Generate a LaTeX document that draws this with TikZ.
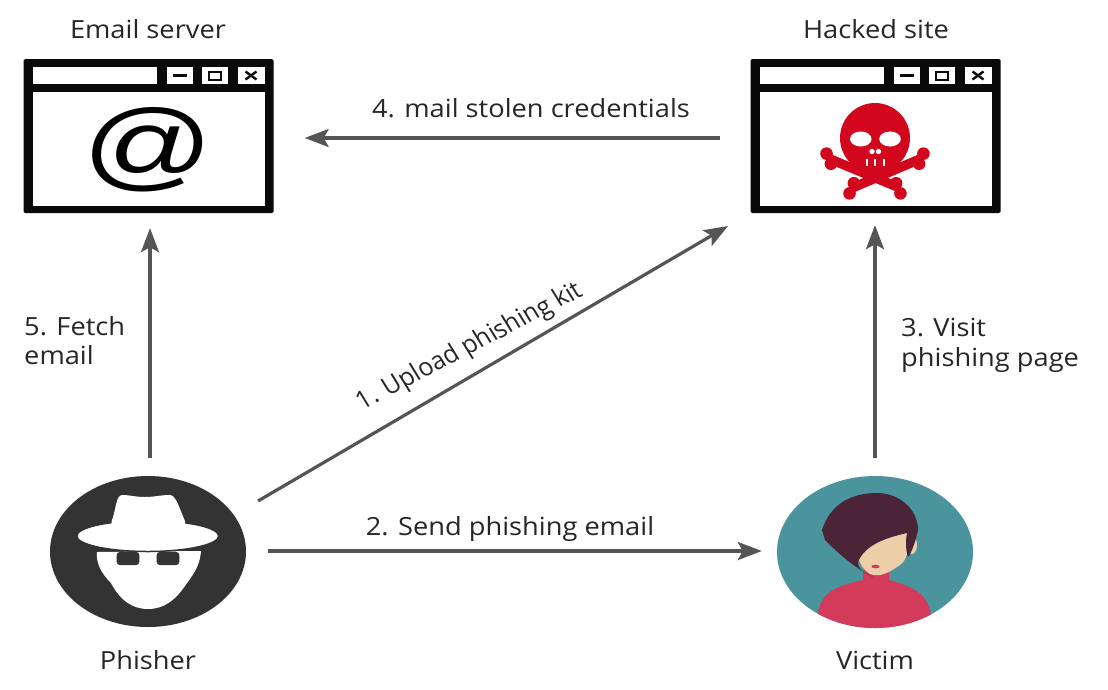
\documentclass[tikz,border=0pt]{standalone}
\usepackage{fontspec}
\setmainfont{Open Sans}
\newfontfamily\atfont{Liberation Sans}
\usetikzlibrary{arrows.meta,shapes.geometric}
\definecolor{frameblack}{HTML}{0A0A0A}
\definecolor{flowgrey}{HTML}{555555}
\definecolor{skullred}{HTML}{D2071E}
\definecolor{darkgrey}{HTML}{333333}
\definecolor{tealbg}{HTML}{4A949E}
\definecolor{sweater}{HTML}{D43A5A}
\definecolor{hair}{HTML}{4B2438}
\definecolor{skin}{HTML}{ECCFA8}
\tikzset{
  flow/.style={draw=flowgrey,line width=3.2pt,-{Stealth[length=24pt,width=18pt,inset=5pt]}},
  label/.style={font=\fontsize{25}{29.5}\selectfont,text=black!85,inner sep=0pt,align=left,xscale=1.09},
  windowbox/.style={rectangle,minimum width=250pt,minimum height=154pt,inner sep=0pt,fill=frameblack,rounded corners=1.5pt},
  bone/.style={draw=skullred,line width=9.5pt},
  knob/.style={fill=skullred}
}
\newcommand{\windowparts}[1]{
  \begin{scope}[shift={(#1)}]
    \fill[white] (9,8) rectangle (133,25);
    \fill[white] (9,33) rectangle (241,147);
    \fill[white] (143,8) rectangle (169,25);
    \fill[white] (178,8) rectangle (204,25);
    \fill[white] (214,8) rectangle (241,25);
    \draw[frameblack,line width=2.2pt] (149,16.5) -- (163,16.5);
    \draw[frameblack,line width=2pt] (185,12.5) rectangle (197,20.5);
    \draw[frameblack,line width=2.4pt] (222,12.5) -- (233,20.5);
    \draw[frameblack,line width=2.4pt] (222,20.5) -- (233,12.5);
  \end{scope}
}
\newcommand{\boneend}[3]{
  \fill[knob] (#1,#2) ++(#3:5.5) circle (6.3);
  \fill[knob] (#1,#2) ++(#3+180:5.5) circle (6.3);
}
\begin{document}
\begin{tikzpicture}[x=1pt,y=-1pt]
  \useasboundingbox (0,0) rectangle (1108,689);
  \fill[white] (0,0) rectangle (1108,689);

  \node[windowbox] (server) at (148.5,136) {};
  \node[windowbox] (site) at (875.5,136) {};
  \windowparts{23.5,59}
  \windowparts{750.5,59}
  \node[font=\atfont\fontsize{98}{98}\selectfont,inner sep=0pt,xscale=1.32] (at) at (148.5,150) {@};

  \draw[bone] (830,159) -- (900,188);
  \draw[bone] (920,159) -- (852,188);
  \boneend{828.7}{158.7}{67}
  \boneend{921.3}{158.7}{113}
  \boneend{851.7}{188.3}{113}
  \boneend{898.3}{188.3}{67}
  \fill[skullred] (875,138) ellipse (35 and 35);
  \fill[skullred] (848,150) -- (902,150) -- (895,157) -- (895,166) -- (856.7,166) -- (856.7,157) -- cycle;
  \fill[white] (860.8,139) ellipse (10.8 and 7.5);
  \fill[white] (890,139) ellipse (10.8 and 7.5);
  \fill[white] (872,151.5) circle (2.7);
  \fill[white] (878.5,151.5) circle (2.7);
  \fill[white] (865.7,159) rectangle (867.7,166);
  \fill[white] (874.3,159) rectangle (876.3,166);
  \fill[white] (883,159) rectangle (885,166);

  \node[ellipse,minimum width=196pt,minimum height=151pt,inner sep=0pt,fill=darkgrey] (phisher) at (148,551.5) {};
  \fill[white] (97,552) .. controls (96,562) and (100,572) .. (111,583)
    .. controls (120,600) and (132,609) .. (148,609)
    .. controls (164,609) and (176,600) .. (187,583)
    .. controls (197,570) and (200,562) .. (201,551) -- cycle;
  \fill[white,draw=darkgrey,line width=1.5pt] (147.7,536) ellipse (71 and 15.5);
  \fill[white] (111.7,521) .. controls (116,510) and (116,495) .. (122,495)
    .. controls (130,495) and (135,497) .. (145,497)
    .. controls (155,497) and (160,495) .. (170,495)
    .. controls (176,495) and (180,510) .. (185,521) -- (185,530) -- (111.7,530) -- cycle;
  \fill[darkgrey,rounded corners=3pt] (116.7,552) rectangle (139.3,565);
  \fill[darkgrey,rounded corners=3pt] (156.7,552) rectangle (179.3,565);

  \node[ellipse,minimum width=196pt,minimum height=152pt,inner sep=0pt,fill=tealbg] (victim) at (875,552) {};
  \begin{scope}
    \clip (875,552) ellipse (98 and 76);
    \fill[sweater] (818,612) .. controls (822,595) and (830,587) .. (863,580) -- (863,570) -- (889,570) -- (889,580)
      .. controls (915,587) and (928,595) .. (931,615) -- (931,640) -- (818,640) -- cycle;
  \end{scope}
  \fill[skin] (912,545) ellipse (5 and 9);
  \fill[skin] (907,530) .. controls (910,545) and (908,560) .. (900,565)
    .. controls (890,572) and (880,578) .. (870,574) .. controls (860,568) and (855,555) .. (860,545) -- cycle;
  \fill[sweater] (875.5,566.5) ellipse (4 and 1.8);
  \fill[hair] (822,530) .. controls (830,505) and (850,493) .. (877,493)
    .. controls (900,493) and (918,510) .. (918,530)
    .. controls (916,540) and (912,552) .. (908,557)
    .. controls (905,548) and (906,538) .. (907,533)
    .. controls (885,538) and (865,545) .. (858,562)
    .. controls (858,570) and (866,574) .. (873,577)
    .. controls (855,568) and (840,555) .. (825,540) -- cycle;

  \draw[flow,shorten <=30pt,shorten >=31pt] (site.west |- 0,138) -- (server.east |- 0,138);
  \draw[flow,shorten <=18pt,shorten >=15pt] ([xshift=2pt]phisher.north) -- ([xshift=1.5pt]server.south);
  \draw[flow,shorten <=18pt,shorten >=12pt] (victim.north) -- ([xshift=-0.5pt]site.south);
  \draw[flow,shorten <=22pt,shorten >=15pt] (phisher.east |- 0,551) -- (victim.west |- 0,551);
  \coordinate (kitend) at (728,226);
  \coordinate (kitstart) at (258,501);
  \draw[flow] (kitstart) -- (kitend);

  \node[label] (servername) at (148,29) {Email server};
  \node[label] (sitename) at (876,29) {Hacked site};
  \node[label] (mail) at (531,108) {4. mail stolen credentials};
  \node[label,anchor=west] (fetch) at (24,340.5) {5. Fetch\\email};
  \node[label,anchor=west] (visit) at (901,345.5) {3. Visit\\phishing page};
  \node[label,rotate=29.5,xscale=0.917] (upload) at (470,347) {1. Upload phishing kit};
  \node[label] (send) at (510,529) {2. Send phishing email};
  \node[label] (phishername) at (148,660) {Phisher};
  \node[label] (victimname) at (875,660) {Victim};
\end{tikzpicture}
\end{document}
